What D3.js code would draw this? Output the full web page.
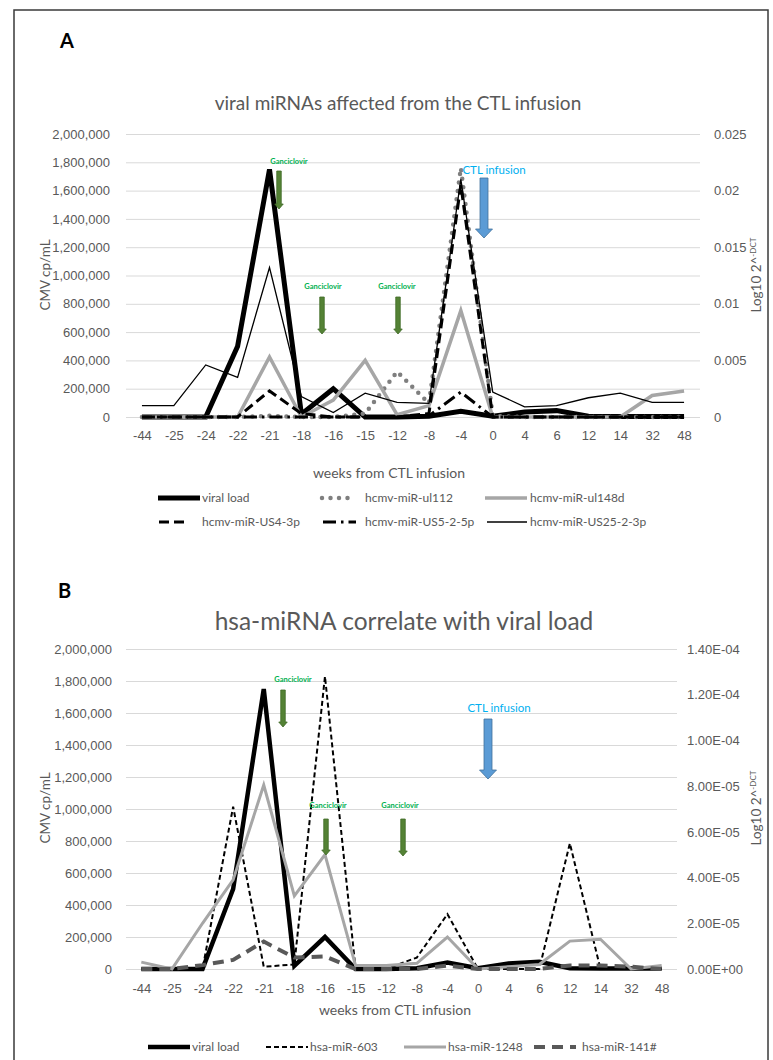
<!DOCTYPE html>
<html>
<head>
<meta charset="utf-8">
<script src="https://cdn.jsdelivr.net/npm/d3@7"></script>
<style>
body { margin: 0; background: #fff; }
svg { display: block; font-family: Lato, "Open Sans", sans-serif; }
</style>
</head>
<body>
<svg id="fig" width="773" height="1060"></svg>
<script>
// categories (weeks from CTL infusion)
var weeks = ["-44", "-25", "-24", "-22", "-21", "-18", "-16", "-15", "-12", "-8", "-4", "0", "4", "6", "12", "14", "32", "48"];

// CMV copies/mL (left axis, both panels)
var viralLoad = [0, 0, 0, 500000, 1750000, 20000, 200000, 0, 0, 5000, 40000, 5000, 35000, 45000, 5000, 3000, 3000, 3000];

// panel A, Log10 2^-DCT (right axis)
var miRul112 = [0, 0, 0, 0, 0.0001, 0, 0, 0.0003, 0.004, 0.0012, 0.022, 0.0001, 0, 0, 0, 0, 0, 0];
var miRul148d = [0, 0, 0, 0, 0.0053, 0, 0.0015, 0.005, 0.0002, 0.001, 0.0094, 0, 0, 0, 0, 0, 0.0019, 0.0023];
var miRUS4 = [0, 0, 0, 0, 0.0023, 0.0003, 0, 0, 0, 0.0003, 0.0205, 0, 0, 0, 0, 0, 0, 0];
var miRUS5 = [0, 0, 0, 0, 0, 0, 0, 0, 0, 0.0001, 0.0022, 0, 0, 0, 0, 0, 0, 0];
var miRUS25 = [0.001, 0.001, 0.0046, 0.0035, 0.0132, 0.0018, 0.0004, 0.0021, 0.0013, 0.0012, 0.021, 0.0022, 0.0009, 0.001, 0.0017, 0.0021, 0.0013, 0.0013];

// panel B, Log10 2^-DCT (right axis)
var miR603 = [0, 0, 0, 7.1e-5, 1e-6, 2e-6, 1.28e-4, 0, 0, 5e-6, 2.4e-5, 0, 0, 0, 5.5e-5, 0, 0, 0];
var miR1248 = [3e-6, 0, 2e-5, 3.9e-5, 8.05e-5, 3.2e-5, 5e-5, 1.5e-6, 1.5e-6, 2.5e-6, 1.4e-5, 0, 1e-6, 2e-6, 1.22e-5, 1.3e-5, 0, 1.5e-6];
var miR141 = [0, 0, 1.7e-6, 4e-6, 1.2e-5, 5e-6, 5.5e-6, 0, 0, 0, 1.5e-6, 0, 0, 0, 1.5e-6, 1.5e-6, 1e-6, 0];

// tick values
var leftTicks = [0, 200000, 400000, 600000, 800000, 1000000, 1200000, 1400000, 1600000, 1800000, 2000000];
var rightTicksA = [0, 0.005, 0.01, 0.015, 0.02, 0.025];
var rightTicksB = [0, 2e-5, 4e-5, 6e-5, 8e-5, 1e-4, 1.2e-4, 1.4e-4];

var svg = d3.select("#fig");
var TXT = "#595959";

svg.append("rect")
    .attr("x", 14).attr("y", 10)
    .attr("width", 754).attr("height", 1080)
    .attr("fill", "none").attr("stroke", "#3a3a3a").attr("stroke-width", 1.5);

function sciFormat(v) {
    var parts = v.toExponential(2).split("e");
    var e = parseInt(parts[1], 10);
    return parts[0] + "E" + (e < 0 ? "-" : "+") + String(Math.abs(e)).padStart(2, "0");
}

function arrowPath(x, y0, y1, sw, hw, hl) {
    return "M" + (x - sw / 2) + "," + y0 + "L" + (x + sw / 2) + "," + y0 +
        "L" + (x + sw / 2) + "," + (y1 - hl) + "L" + (x + hw / 2) + "," + (y1 - hl) +
        "L" + x + "," + y1 + "L" + (x - hw / 2) + "," + (y1 - hl) +
        "L" + (x - sw / 2) + "," + (y1 - hl) + "Z";
}

function drawPanel(cfg) {
    var g = svg.append("g");
    var x = d3.scalePoint().domain(weeks).range([cfg.left, cfg.right]).padding(0.5);
    var yL = d3.scaleLinear().domain([0, 2000000]).range([cfg.bottom, cfg.top]);
    var yR = d3.scaleLinear().domain([0, cfg.rightMax]).range([cfg.bottom, cfg.top]);

    // gridlines
    g.append("g")
        .attr("transform", "translate(" + cfg.left + ",0)")
        .call(d3.axisLeft(yL).tickValues(leftTicks).tickSize(-(cfg.right - cfg.left)).tickFormat(""))
        .call(function (a) { a.select(".domain").remove(); })
        .selectAll("line").attr("stroke", "#d9d9d9").attr("stroke-width", 1);

    // left tick labels
    g.append("g")
        .attr("transform", "translate(" + cfg.leftLabelX + ",0)")
        .call(d3.axisLeft(yL).tickValues(leftTicks).tickSize(0).tickPadding(0).tickFormat(d3.format(",")))
        .call(function (a) { a.select(".domain").remove(); })
        .selectAll("text").attr("fill", TXT).attr("font-size", cfg.tickSize).attr("font-family", null);

    // right tick labels
    g.append("g")
        .attr("transform", "translate(" + cfg.rightLabelX + ",0)")
        .call(d3.axisRight(yR).tickValues(cfg.rightTicks).tickSize(0).tickPadding(0).tickFormat(cfg.rightFormat))
        .call(function (a) { a.select(".domain").remove(); })
        .selectAll("text").attr("fill", TXT).attr("font-size", cfg.tickSize).attr("font-family", null);

    // x tick labels
    g.append("g")
        .attr("transform", "translate(0," + cfg.xLabelY + ")")
        .call(d3.axisBottom(x).tickSize(0).tickPadding(0))
        .call(function (a) { a.select(".domain").remove(); })
        .selectAll("text").attr("dy", "0.35em").attr("fill", TXT).attr("font-size", cfg.tickSize).attr("font-family", null);

    // series
    cfg.series.forEach(function (s) {
        var yS = s.axis === "left" ? yL : yR;
        var line = d3.line().x(function (d, i) { return x(weeks[i]); }).y(function (d) { return yS(d); });
        g.append("path")
            .datum(s.values)
            .attr("d", line)
            .attr("fill", "none")
            .attr("stroke", s.color)
            .attr("stroke-width", s.width)
            .attr("stroke-dasharray", s.dash || null)
            .attr("stroke-linecap", s.cap || "butt")
            .attr("stroke-linejoin", "miter");
    });

    // panel letter and title
    g.append("text").attr("x", cfg.letterX).attr("y", cfg.letterY)
        .attr("font-size", 20).attr("font-weight", "bold").attr("fill", "#000").text(cfg.letter);
    g.append("text").attr("x", cfg.titleX).attr("y", cfg.titleY).attr("text-anchor", "middle")
        .attr("font-size", cfg.titleSize).attr("fill", TXT).text(cfg.title);

    // axis titles
    g.append("text").attr("x", cfg.xTitleX).attr("y", cfg.xTitleY).attr("text-anchor", "middle")
        .attr("font-size", 14).attr("fill", TXT).text("weeks from CTL infusion");
    g.append("text")
        .attr("transform", "translate(" + cfg.yTitleLX + "," + cfg.yTitleY + ") rotate(-90)")
        .attr("text-anchor", "middle").attr("font-size", 13.5).attr("fill", TXT).text("CMV cp/mL");
    var rt = g.append("text")
        .attr("transform", "translate(" + cfg.yTitleRX + "," + cfg.yTitleY + ") rotate(-90)")
        .attr("text-anchor", "middle").attr("font-size", 13.5).attr("fill", TXT);
    rt.append("tspan").text("Log10 2^");
    rt.append("tspan").attr("dy", -5).attr("font-size", 8).text("-DCT");

    // annotations
    cfg.notes.forEach(function (n) {
        g.append("text").attr("x", n.tx).attr("y", n.ty).attr("text-anchor", "middle")
            .attr("font-size", n.size).attr("fill", n.textColor).attr("font-weight", n.bold ? "bold" : null).text(n.label);
        g.append("path").attr("d", arrowPath(n.ax, n.y0, n.y1, n.sw, n.hw, n.hl))
            .attr("fill", n.fill).attr("stroke", n.stroke).attr("stroke-width", 0.8);
    });

    // legend
    cfg.legend.forEach(function (item) {
        var s = cfg.series[item.s];
        g.append("line").attr("x1", item.x1).attr("x2", item.x2).attr("y1", item.y).attr("y2", item.y)
            .attr("stroke", s.color).attr("stroke-width", s.width)
            .attr("stroke-dasharray", s.dash || null).attr("stroke-linecap", s.cap || "butt");
        g.append("text").attr("x", item.tx).attr("y", item.y).attr("dy", "0.35em")
            .attr("font-size", 12).attr("fill", TXT).text(s.name);
    });
}

var greenNote = { textColor: "#00b050", fill: "#548235", stroke: "#3f6a26", size: 7.5, bold: true, sw: 4.5, hw: 8.5, hl: 5, label: "Ganciclovir" };
var blueNote = { textColor: "#00b0f0", fill: "#5b9bd5", stroke: "#41719c", size: 11.5, bold: false, sw: 8, hw: 17, hl: 9, label: "CTL infusion" };

drawPanel({
    letter: "A", letterX: 60, letterY: 48,
    title: "viral miRNAs affected from the CTL infusion", titleX: 398, titleY: 110, titleSize: 19,
    left: 126, right: 700, top: 134, bottom: 417,
    leftLabelX: 110, rightLabelX: 714, xLabelY: 435, tickSize: 13,
    rightMax: 0.025, rightTicks: rightTicksA,
    rightFormat: function (v) { return v === 0 ? "0" : String(v); },
    xTitleX: 389, xTitleY: 478, yTitleLX: 50, yTitleRX: 761, yTitleY: 275,
    series: [
        { name: "viral load", values: viralLoad, axis: "left", color: "#000", width: 5 },
        { name: "hcmv-miR-ul112", values: miRul112, axis: "right", color: "#7f7f7f", width: 4.5, dash: "0 8.5", cap: "round" },
        { name: "hcmv-miR-ul148d", values: miRul148d, axis: "right", color: "#a6a6a6", width: 3.5 },
        { name: "hcmv-miR-US4-3p", values: miRUS4, axis: "right", color: "#000", width: 3, dash: "10 5" },
        { name: "hcmv-miR-US5-2-5p", values: miRUS5, axis: "right", color: "#000", width: 3, dash: "13 5 2.5 5" },
        { name: "hcmv-miR-US25-2-3p", values: miRUS25, axis: "right", color: "#000", width: 1.3 }
    ],
    legend: [
        { s: 0, x1: 158, x2: 200, tx: 202, y: 498 },
        { s: 1, x1: 322, x2: 352, tx: 365, y: 498 },
        { s: 2, x1: 485, x2: 527, tx: 530, y: 498 },
        { s: 3, x1: 159, x2: 186, tx: 202, y: 522 },
        { s: 4, x1: 323, x2: 356, tx: 365, y: 522 },
        { s: 5, x1: 487, x2: 527, tx: 530, y: 522 }
    ],
    notes: [
        Object.assign({ tx: 289, ty: 164, ax: 279, y0: 171, y1: 209 }, greenNote),
        Object.assign({ tx: 323, ty: 289, ax: 322, y0: 297, y1: 334 }, greenNote),
        Object.assign({ tx: 397, ty: 289, ax: 398, y0: 297, y1: 334 }, greenNote),
        Object.assign({ tx: 494, ty: 174, ax: 484, y0: 178, y1: 238 }, blueNote)
    ]
});

drawPanel({
    letter: "B", letterX: 58, letterY: 598,
    title: "hsa-miRNA correlate with viral load", titleX: 404, titleY: 630, titleSize: 24.5,
    left: 126, right: 677, top: 649, bottom: 969,
    leftLabelX: 112, rightLabelX: 687, xLabelY: 988, tickSize: 13,
    rightMax: 1.4e-4, rightTicks: rightTicksB, rightFormat: sciFormat,
    xTitleX: 395, xTitleY: 1015, yTitleLX: 50, yTitleRX: 761, yTitleY: 808,
    series: [
        { name: "viral load", values: viralLoad, axis: "left", color: "#000", width: 4.5 },
        { name: "hsa-miR-603", values: miR603, axis: "right", color: "#000", width: 2, dash: "5 3" },
        { name: "hsa-miR-1248", values: miR1248, axis: "right", color: "#a6a6a6", width: 3 },
        { name: "hsa-miR-141#", values: miR141, axis: "right", color: "#595959", width: 4, dash: "11 7" }
    ],
    legend: [
        { s: 0, x1: 148, x2: 190, tx: 192, y: 1047 },
        { s: 1, x1: 266, x2: 308, tx: 310, y: 1047 },
        { s: 2, x1: 404, x2: 446, tx: 448, y: 1047 },
        { s: 3, x1: 534, x2: 576, tx: 582, y: 1047 }
    ],
    notes: [
        Object.assign({ tx: 293, ty: 682, ax: 283, y0: 690, y1: 727 }, greenNote),
        Object.assign({ tx: 328, ty: 808, ax: 326, y0: 819, y1: 855 }, greenNote),
        Object.assign({ tx: 400, ty: 808, ax: 403, y0: 819, y1: 856 }, greenNote),
        Object.assign({ tx: 499, ty: 712, ax: 488, y0: 719, y1: 779 }, blueNote)
    ]
});
</script>
</body>
</html>
